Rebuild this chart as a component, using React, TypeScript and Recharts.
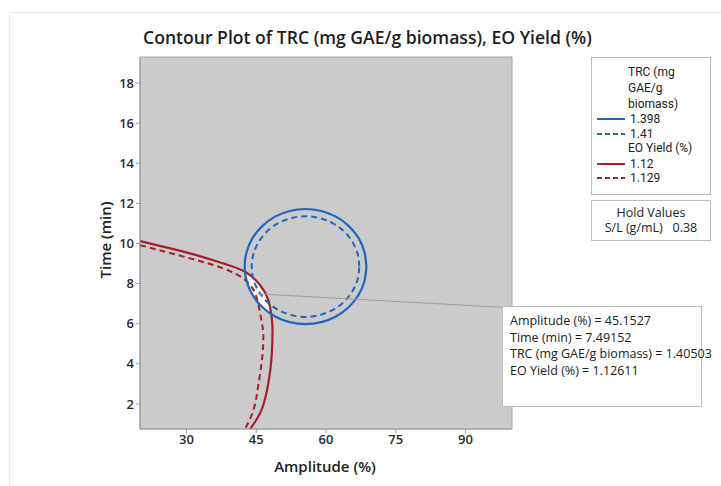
import React from "react";
import {
  ComposedChart,
  Line,
  Area,
  XAxis,
  YAxis,
  CartesianGrid,
  ReferenceArea,
  ReferenceLine,
} from "recharts";

const FONT = "'Open Sans', 'Noto Sans', sans-serif";
const LEGEND_FONT = "Roboto, 'Liberation Sans', sans-serif";
const BLUE = "#2066be";
const RED = "#a51e2a";

const ampTicks = [30, 45, 60, 75, 90];
const timeTicks = [2, 4, 6, 8, 10, 12, 14, 16, 18];

// contour lines as [amplitude %, time min]
const trc1398: [number, number][] = [
  [68.7, 8.85], [68.25, 9.59], [66.95, 10.29], [64.86, 10.88], [62.15, 11.34],
  [58.99, 11.62], [55.6, 11.72], [52.21, 11.62], [49.05, 11.34], [46.34, 10.88],
  [44.25, 10.29], [42.95, 9.59], [42.5, 8.85], [42.95, 8.11], [44.25, 7.42],
  [46.34, 6.82], [49.05, 6.36], [52.21, 6.08], [55.6, 5.98], [58.99, 6.08],
  [62.15, 6.36], [64.86, 6.82], [66.95, 7.42], [68.25, 8.11], [68.7, 8.85],
];

const trc141: [number, number][] = [
  [67.17, 8.85], [66.78, 9.5], [65.62, 10.1], [63.78, 10.63], [61.39, 11.02],
  [58.6, 11.27], [55.6, 11.36], [52.6, 11.27], [49.81, 11.02], [47.42, 10.63],
  [45.58, 10.1], [44.42, 9.5], [44.03, 8.85], [44.42, 8.2], [45.58, 7.6],
  [47.42, 7.07], [49.81, 6.68], [52.6, 6.43], [55.6, 6.34], [58.6, 6.43],
  [61.39, 6.68], [63.78, 7.07], [65.62, 7.6], [66.78, 8.2], [67.17, 8.85],
];

const eo112: [number, number][] = [
  [20, 10.12], [30.75, 9.51], [37.9, 9.01], [42.6, 8.59], [45.8, 7.93],
  [47.6, 7.18], [48.3, 6.35], [48.5, 5.69], [48.3, 4.35], [47.6, 3.03],
  [46.4, 1.86], [45.0, 1.2], [43.7, 0.75],
];

const eo1129: [number, number][] = [
  [20, 9.92], [30.75, 9.26], [37.9, 8.76], [42.2, 8.26], [44.4, 7.68],
  [45.4, 7.02], [46.1, 6.18], [46.5, 5.52], [46.3, 4.35], [45.4, 2.86],
  [44.4, 1.7], [42.6, 0.75],
];

// white region where both responses meet their targets: [amplitude, low, high]
const feasible: [number, number, number][] = [
  [42.7, 8.5, 8.55], [44.0, 7.5, 8.35], [45.5, 7.0, 8.05], [47.0, 6.66, 7.48], [48.1, 6.5, 6.65],
];

const crosshair = { amp: 45.1527, time: 7.49152, trc: 1.40503, eo: 1.12611 };
const calloutAnchor = { amp: 97.85, time: 6.82 };
const holdLabel = "S/L (g/mL)";
const holdValue = 0.38;

const toPts = (arr: [number, number][]) => arr.map(([x, y]) => ({ x, y }));
const lensData = feasible.map(([x, lo, hi]) => ({ x, range: [lo, hi] }));

const tickStyle = { fontSize: 13, fill: "#2b2b2b", fontFamily: FONT, fontWeight: 600 };

const LegendLine = ({ color, dashed }: { color: string; dashed?: boolean }) => (
  <svg width={30} height={10} style={{ marginRight: 4 }}>
    <line x1={1} y1={5} x2={29} y2={5} stroke={color} strokeWidth={2}
      strokeDasharray={dashed ? "5 3" : undefined} />
  </svg>
);

const row: React.CSSProperties = { display: "flex", alignItems: "center", height: 14.5, lineHeight: "14.5px", paddingLeft: 4 };
const head: React.CSSProperties = { paddingLeft: 36, lineHeight: "15.5px" };

export default function App() {
  return (
    <div style={{ position: "absolute", left: 0, top: 0, width: 721, height: 486, background: "#fff", fontFamily: FONT, color: "#222" }}>
      <div style={{ position: "absolute", left: 9, top: 12, width: 712, height: 474, borderLeft: "1px solid #ececec", borderTop: "1px solid #ececec" }} />

      <div style={{ position: "absolute", left: 143, top: 25, fontSize: 17.6, fontWeight: 600, whiteSpace: "nowrap", color: "#1e1e1e" }}>
        Contour Plot of TRC (mg GAE/g biomass), EO Yield (%)
      </div>

      <ComposedChart width={721} height={486} margin={{ top: 57, right: 209, bottom: 27, left: 100 }}
        style={{ position: "absolute", left: 0, top: 0 }}>
        <CartesianGrid horizontal={false} vertical={false} fill="#cbcbcb" />
        <XAxis type="number" dataKey="x" domain={[20, 100]} ticks={ampTicks} allowDataOverflow
          height={30} tickSize={4} stroke="#9a9a9a" tick={tickStyle} interval={0} />
        <YAxis type="number" domain={[0.75, 19.3]} ticks={timeTicks} allowDataOverflow
          width={40} tickSize={4} stroke="#9a9a9a" tick={tickStyle} interval={0} />
        <Area data={lensData} dataKey="range" type="linear" stroke="none" fill="#ffffff"
          fillOpacity={1} isAnimationActive={false} />
        <Line data={toPts(eo112)} dataKey="y" type="natural" stroke={RED} strokeWidth={2.2}
          dot={false} isAnimationActive={false} />
        <Line data={toPts(eo1129)} dataKey="y" type="natural" stroke={RED} strokeWidth={2}
          strokeDasharray="6 4" dot={false} isAnimationActive={false} />
        <Line data={toPts(trc1398)} dataKey="y" type="natural" stroke={BLUE} strokeWidth={2.2}
          dot={false} isAnimationActive={false} />
        <Line data={toPts(trc141)} dataKey="y" type="natural" stroke={BLUE} strokeWidth={2}
          strokeDasharray="6 4" dot={false} isAnimationActive={false} />
        <ReferenceLine segment={[{ x: crosshair.amp, y: crosshair.time }, { x: calloutAnchor.amp, y: calloutAnchor.time }]}
          stroke="#9c9c9c" strokeWidth={1} />
        <ReferenceArea x1={20} x2={100} y1={0.75} y2={19.3} fill="none" stroke="#a6a6a6" strokeWidth={1} />
      </ComposedChart>

      <div style={{ position: "absolute", left: 325, top: 456, transform: "translateX(-50%)", fontSize: 15, fontWeight: 600, whiteSpace: "nowrap" }}>
        Amplitude (%)
      </div>
      <div style={{ position: "absolute", left: 105, top: 240, transform: "translate(-50%, -50%) rotate(-90deg)", fontSize: 15, fontWeight: 600, whiteSpace: "nowrap" }}>
        Time (min)
      </div>

      <div style={{ position: "absolute", left: 591, top: 57, width: 120, height: 138, border: "1px solid #bdbdbd", fontSize: 12, fontFamily: LEGEND_FONT, boxSizing: "border-box", paddingTop: 6 }}>
        <div style={{ ...head, lineHeight: "16px" }}>TRC (mg<br />GAE/g<br />biomass)</div>
        <div style={row}><LegendLine color={BLUE} />1.398</div>
        <div style={row}><LegendLine color={BLUE} dashed />1.41</div>
        <div style={head}>EO Yield (%)</div>
        <div style={row}><LegendLine color={RED} />1.12</div>
        <div style={row}><LegendLine color={RED} dashed />1.129</div>
      </div>

      <div style={{ position: "absolute", left: 591, top: 200, width: 120, height: 41, border: "1px solid #bdbdbd", fontSize: 12.5, boxSizing: "border-box", textAlign: "center", lineHeight: "15px", paddingTop: 4 }}>
        <div>Hold Values</div>
        <div>{holdLabel}&nbsp;&nbsp;&nbsp;{holdValue}</div>
      </div>

      <div style={{ position: "absolute", left: 502, top: 306, width: 200, height: 101, border: "1px solid #bdbdbd", background: "#fff", boxSizing: "border-box", fontSize: 12.5, lineHeight: "16.5px", padding: "6px 0 0 7px", whiteSpace: "nowrap" }}>
        <div>Amplitude (%) = {crosshair.amp}</div>
        <div>Time (min) = {crosshair.time}</div>
        <div>TRC (mg GAE/g biomass) = {crosshair.trc}</div>
        <div>EO Yield (%) = {crosshair.eo}</div>
      </div>
    </div>
  );
}
